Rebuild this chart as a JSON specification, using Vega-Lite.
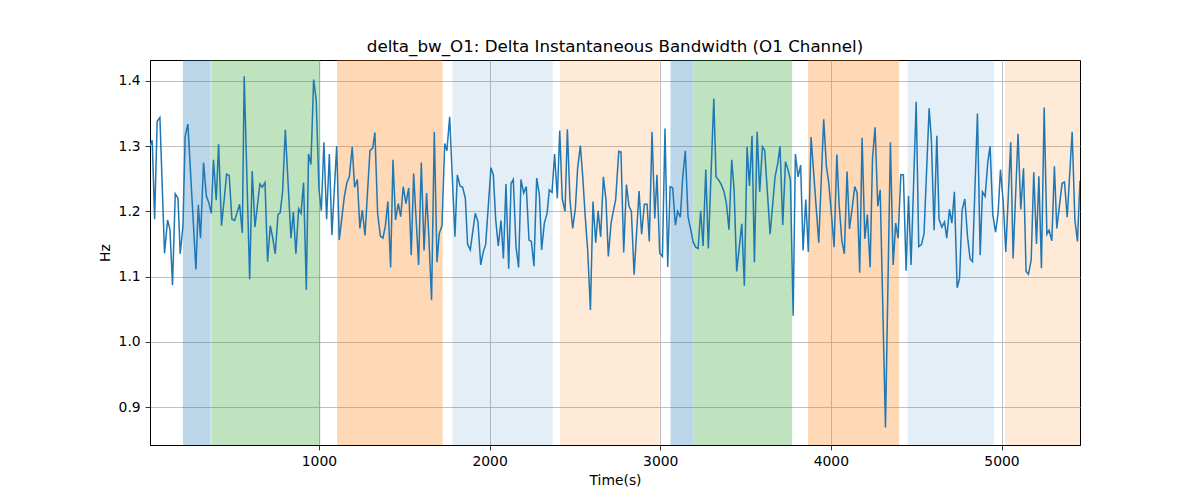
{
  "$schema": "https://vega.github.io/schema/vega-lite/v6.json",
  "width": 930,
  "height": 385,
  "autosize": {"type": "none"},
  "padding": {"left": 150, "top": 60, "right": 120, "bottom": 55},
  "background": "white",
  "title": {"text": "delta_bw_O1: Delta Instantaneous Bandwidth (O1 Channel)", "font": "DejaVu Sans", "fontSize": 16.7, "fontWeight": "normal", "color": "black", "offset": 4},
  "datasets": {
    "spans": [
      {"start": 203, "end": 366, "kind": "blue"},
      {"start": 369, "end": 1008, "kind": "green"},
      {"start": 1106, "end": 1725, "kind": "orange"},
      {"start": 1782, "end": 2370, "kind": "lightblue"},
      {"start": 2413, "end": 2997, "kind": "lightorange"},
      {"start": 3060, "end": 3195, "kind": "blue"},
      {"start": 3196, "end": 3773, "kind": "green"},
      {"start": 3866, "end": 4400, "kind": "orange"},
      {"start": 4449, "end": 4955, "kind": "lightblue"},
      {"start": 5021, "end": 5460, "kind": "lightorange"}
    ],
    "series": [
      {"t":10,"v":1.30},{"t":23,"v":1.309},{"t":37,"v":1.188},{"t":52,"v":1.338},{"t":68,"v":1.344},{"t":95,"v":1.136},{"t":113,"v":1.187},{"t":127,"v":1.172},{"t":142,"v":1.087},{"t":158,"v":1.227},{"t":174,"v":1.22},{"t":187,"v":1.135},{"t":203,"v":1.177},{"t":216,"v":1.315},{"t":232,"v":1.334},{"t":279,"v":1.111},{"t":293,"v":1.21},{"t":306,"v":1.159},{"t":324,"v":1.275},{"t":340,"v":1.224},{"t":355,"v":1.213},{"t":369,"v":1.197},{"t":382,"v":1.279},{"t":398,"v":1.217},{"t":412,"v":1.303},{"t":429,"v":1.178},{"t":445,"v":1.219},{"t":459,"v":1.257},{"t":474,"v":1.255},{"t":490,"v":1.188},{"t":506,"v":1.186},{"t":519,"v":1.197},{"t":535,"v":1.211},{"t":551,"v":1.167},
      {"t":562,"v":1.407},{"t":594,"v":1.096},{"t":609,"v":1.262},{"t":625,"v":1.176},{"t":654,"v":1.242},{"t":668,"v":1.237},{"t":684,"v":1.244},{"t":699,"v":1.123},{"t":715,"v":1.178},{"t":728,"v":1.161},{"t":744,"v":1.135},{"t":760,"v":1.195},{"t":773,"v":1.198},{"t":787,"v":1.23},{"t":803,"v":1.325},{"t":836,"v":1.159},{"t":850,"v":1.199},{"t":865,"v":1.135},{"t":881,"v":1.204},{"t":895,"v":1.197},{"t":910,"v":1.244},{"t":926,"v":1.08},{"t":939,"v":1.288},{"t":953,"v":1.272},{"t":969,"v":1.402},{"t":984,"v":1.371},{"t":1000,"v":1.235},{"t":1014,"v":1.201},{"t":1029,"v":1.306},{"t":1045,"v":1.188},{"t":1061,"v":1.288},{"t":1076,"v":1.164},
      {"t":1104,"v":1.30},{"t":1119,"v":1.156},{"t":1149,"v":1.223},{"t":1164,"v":1.244},{"t":1178,"v":1.253},{"t":1195,"v":1.299},{"t":1209,"v":1.237},{"t":1225,"v":1.249},{"t":1240,"v":1.174},{"t":1254,"v":1.202},{"t":1270,"v":1.163},{"t":1299,"v":1.293},{"t":1315,"v":1.297},{"t":1328,"v":1.321},{"t":1344,"v":1.197},{"t":1360,"v":1.162},{"t":1375,"v":1.159},{"t":1389,"v":1.177},{"t":1404,"v":1.215},{"t":1420,"v":1.114},{"t":1434,"v":1.279},{"t":1449,"v":1.187},{"t":1465,"v":1.212},{"t":1479,"v":1.192},{"t":1494,"v":1.238},{"t":1510,"v":1.212},{"t":1526,"v":1.236},{"t":1541,"v":1.133},{"t":1555,"v":1.258},{"t":1584,"v":1.118},{"t":1600,"v":1.275},{"t":1616,"v":1.14},{"t":1631,"v":1.228},
      {"t":1645,"v":1.156},{"t":1660,"v":1.064},{"t":1676,"v":1.322},{"t":1692,"v":1.122},{"t":1705,"v":1.166},{"t":1721,"v":1.178},{"t":1737,"v":1.304},{"t":1750,"v":1.293},{"t":1766,"v":1.345},{"t":1797,"v":1.161},{"t":1811,"v":1.256},{"t":1827,"v":1.239},{"t":1842,"v":1.237},{"t":1858,"v":1.22},{"t":1871,"v":1.15},{"t":1887,"v":1.141},{"t":1903,"v":1.172},{"t":1916,"v":1.197},{"t":1932,"v":1.184},{"t":1948,"v":1.118},{"t":1963,"v":1.138},{"t":1977,"v":1.149},{"t":2008,"v":1.267},{"t":2022,"v":1.256},{"t":2036,"v":1.187},{"t":2051,"v":1.147},{"t":2067,"v":1.186},{"t":2081,"v":1.128},{"t":2096,"v":1.242},{"t":2112,"v":1.112},{"t":2126,"v":1.243},{"t":2139,"v":1.249},{"t":2155,"v":1.146},{"t":2170,"v":1.114},
      {"t":2184,"v":1.249},{"t":2200,"v":1.228},{"t":2215,"v":1.238},{"t":2231,"v":1.156},{"t":2245,"v":1.154},{"t":2260,"v":1.116},{"t":2276,"v":1.251},{"t":2292,"v":1.225},{"t":2305,"v":1.141},{"t":2321,"v":1.182},{"t":2337,"v":1.197},{"t":2350,"v":1.233},{"t":2366,"v":1.229},{"t":2381,"v":1.288},{"t":2397,"v":1.22},{"t":2411,"v":1.324},{"t":2426,"v":1.219},{"t":2442,"v":1.2},{"t":2456,"v":1.326},{"t":2471,"v":1.218},{"t":2487,"v":1.174},{"t":2503,"v":1.205},{"t":2516,"v":1.266},{"t":2532,"v":1.301},{"t":2546,"v":1.253},{"t":2561,"v":1.19},{"t":2575,"v":1.14},{"t":2591,"v":1.049},{"t":2606,"v":1.215},{"t":2622,"v":1.152},{"t":2636,"v":1.201},{"t":2651,"v":1.161},{"t":2667,"v":1.253},{"t":2682,"v":1.218},{"t":2696,"v":1.131},{"t":2712,"v":1.182},
      {"t":2725,"v":1.2},{"t":2739,"v":1.218},{"t":2757,"v":1.292},{"t":2770,"v":1.291},{"t":2786,"v":1.137},{"t":2802,"v":1.241},{"t":2817,"v":1.208},{"t":2831,"v":1.2},{"t":2847,"v":1.103},{"t":2876,"v":1.231},{"t":2891,"v":1.165},{"t":2907,"v":1.211},{"t":2923,"v":1.211},{"t":2936,"v":1.154},{"t":2952,"v":1.322},{"t":2968,"v":1.189},{"t":2981,"v":1.256},{"t":2997,"v":1.136},{"t":3013,"v":1.131},{"t":3028,"v":1.327},{"t":3044,"v":1.115},{"t":3058,"v":1.238},{"t":3073,"v":1.236},{"t":3089,"v":1.179},{"t":3102,"v":1.2},{"t":3118,"v":1.191},{"t":3132,"v":1.253},{"t":3147,"v":1.293},{"t":3163,"v":1.192},{"t":3179,"v":1.172},{"t":3192,"v":1.154},{"t":3208,"v":1.145},{"t":3222,"v":1.143},{"t":3237,"v":1.201},{"t":3251,"v":1.147},
      {"t":3267,"v":1.264},{"t":3282,"v":1.143},{"t":3314,"v":1.373},{"t":3327,"v":1.253},{"t":3343,"v":1.248},{"t":3358,"v":1.241},{"t":3374,"v":1.23},{"t":3388,"v":1.212},{"t":3403,"v":1.172},{"t":3419,"v":1.279},{"t":3433,"v":1.233},{"t":3448,"v":1.108},{"t":3478,"v":1.181},{"t":3493,"v":1.086},{"t":3509,"v":1.299},{"t":3523,"v":1.239},{"t":3538,"v":1.316},{"t":3552,"v":1.122},{"t":3568,"v":1.322},{"t":3583,"v":1.23},{"t":3599,"v":1.299},{"t":3612,"v":1.294},{"t":3644,"v":1.165},{"t":3673,"v":1.253},{"t":3689,"v":1.274},{"t":3702,"v":1.3},{"t":3718,"v":1.179},{"t":3734,"v":1.276},{"t":3749,"v":1.264},{"t":3763,"v":1.248},{"t":3779,"v":1.04},{"t":3792,"v":1.288},
      {"t":3808,"v":1.253},{"t":3823,"v":1.271},{"t":3837,"v":1.14},{"t":3853,"v":1.218},{"t":3868,"v":1.138},{"t":3884,"v":1.314},{"t":3929,"v":1.152},{"t":3958,"v":1.341},{"t":3974,"v":1.269},{"t":3988,"v":1.243},{"t":4003,"v":1.197},{"t":4019,"v":1.145},{"t":4035,"v":1.287},{"t":4048,"v":1.212},{"t":4064,"v":1.156},{"t":4079,"v":1.135},{"t":4095,"v":1.261},{"t":4109,"v":1.173},{"t":4124,"v":1.203},{"t":4140,"v":1.238},{"t":4154,"v":1.228},{"t":4169,"v":1.106},{"t":4183,"v":1.313},{"t":4199,"v":1.158},{"t":4214,"v":1.195},{"t":4230,"v":1.114},{"t":4244,"v":1.281},{"t":4259,"v":1.329},{"t":4275,"v":1.208},{"t":4289,"v":1.233},{"t":4320,"v":0.869},
      {"t":4349,"v":1.306},{"t":4365,"v":1.118},{"t":4380,"v":1.182},{"t":4394,"v":1.159},{"t":4410,"v":1.256},{"t":4425,"v":1.256},{"t":4441,"v":1.109},{"t":4455,"v":1.224},{"t":4470,"v":1.118},{"t":4500,"v":1.368},{"t":4515,"v":1.146},{"t":4531,"v":1.149},{"t":4546,"v":1.166},{"t":4576,"v":1.358},{"t":4589,"v":1.31},{"t":4605,"v":1.171},{"t":4621,"v":1.316},{"t":4634,"v":1.188},{"t":4650,"v":1.176},{"t":4666,"v":1.184},{"t":4679,"v":1.159},{"t":4695,"v":1.203},{"t":4709,"v":1.182},{"t":4724,"v":1.23},{"t":4740,"v":1.083},{"t":4754,"v":1.097},{"t":4769,"v":1.202},{"t":4785,"v":1.219},{"t":4801,"v":1.161},{"t":4816,"v":1.127},{"t":4830,"v":1.123},{"t":4859,"v":1.35},{"t":4875,"v":1.133},
      {"t":4888,"v":1.23},{"t":4904,"v":1.223},{"t":4920,"v":1.276},{"t":4933,"v":1.3},{"t":4949,"v":1.195},{"t":4965,"v":1.168},{"t":4980,"v":1.197},{"t":4994,"v":1.264},{"t":5010,"v":1.215},{"t":5025,"v":1.138},{"t":5054,"v":1.306},{"t":5068,"v":1.128},{"t":5097,"v":1.319},{"t":5113,"v":1.203},{"t":5129,"v":1.266},{"t":5144,"v":1.108},{"t":5158,"v":1.104},{"t":5174,"v":1.126},{"t":5189,"v":1.26},{"t":5205,"v":1.15},{"t":5219,"v":1.254},{"t":5234,"v":1.113},{"t":5250,"v":1.359},{"t":5266,"v":1.165},{"t":5279,"v":1.171},{"t":5295,"v":1.155},{"t":5310,"v":1.269},{"t":5324,"v":1.174},{"t":5355,"v":1.243},{"t":5369,"v":1.245},{"t":5385,"v":1.191},{"t":5414,"v":1.322},{"t":5430,"v":1.187},{"t":5445,"v":1.154},{"t":5460,"v":1.247}
    ]
  },
  "layer": [
    {
      "data": {"name": "spans"},
      "mark": {"type": "rect"},
      "encoding": {
        "x": {"field": "start", "type": "quantitative", "scale": {"domain": [10, 5460], "nice": false, "zero": false}, "title": "Time(s)"},
        "x2": {"field": "end"},
        "color": {"field": "kind", "type": "nominal", "legend": null,
          "scale": {"domain": ["blue", "green", "orange", "lightblue", "lightorange"],
                    "range": ["rgba(31,119,180,0.3)", "rgba(44,160,44,0.3)", "rgba(255,127,14,0.3)", "rgba(31,119,180,0.12)", "rgba(255,127,14,0.16)"]}}
      }
    },
    {
      "data": {"name": "series"},
      "mark": {"type": "line", "color": "#1f77b4", "strokeWidth": 1.5, "clip": true},
      "encoding": {
        "x": {"field": "t", "type": "quantitative", "title": "Time(s)",
          "axis": {"values": [1000, 2000, 3000, 4000, 5000], "format": "d", "titlePadding": 5}},
        "y": {"field": "v", "type": "quantitative", "title": "Hz",
          "scale": {"domain": [0.842, 1.432], "nice": false, "zero": false},
          "axis": {"values": [0.9, 1.0, 1.1, 1.2, 1.3, 1.4], "format": ".1f", "titlePadding": 6}}
      }
    }
  ],
  "config": {
    "view": {"stroke": "black", "strokeWidth": 1},
    "axis": {
      "domain": true, "domainColor": "black", "domainWidth": 1,
      "grid": true, "gridColor": "#b0b0b0", "gridWidth": 0.8,
      "ticks": true, "tickColor": "black", "tickSize": 4.9, "tickWidth": 0.8,
      "labelColor": "black", "labelFont": "DejaVu Sans", "labelFontSize": 13.9, "labelPadding": 4.9,
      "titleColor": "black", "titleFont": "DejaVu Sans", "titleFontSize": 13.9, "titleFontWeight": "normal"
    }
  }
}
